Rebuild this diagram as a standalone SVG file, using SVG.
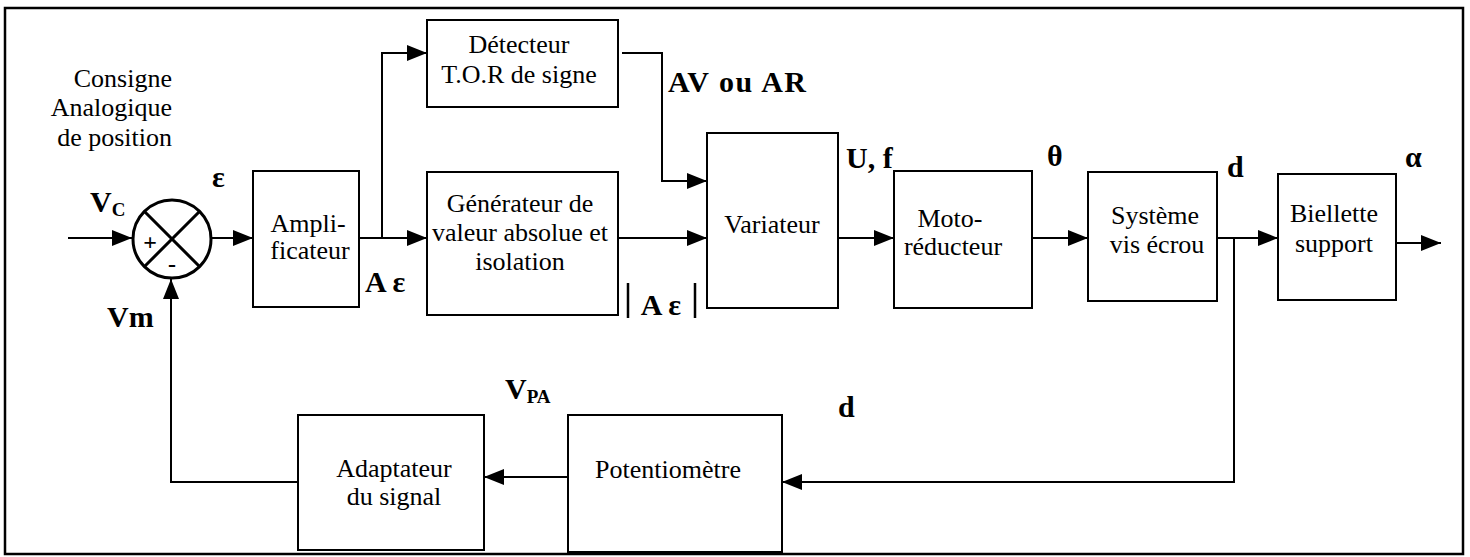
<svg xmlns="http://www.w3.org/2000/svg" width="1470" height="557" viewBox="0 0 1470 557">
<style>
.box{fill:#fff;stroke:#000;stroke-width:2}
.t{font-size:26px;fill:#000}
.c{text-anchor:middle}
.b{font-size:30px;font-weight:bold;fill:#000}
.sub{font-size:19px}
.ln{fill:none;stroke:#000;stroke-width:2}
</style>
<defs>
<marker id="ah" markerUnits="userSpaceOnUse" markerWidth="20" markerHeight="16" refX="20" refY="8" orient="auto">
<path d="M0,0 L20,8 L0,16 z" fill="#000"/>
</marker>
</defs>
<rect x="0" y="0" width="1470" height="557" fill="#fff"/>
<rect x="5" y="8" width="1458" height="546" fill="none" stroke="#000" stroke-width="2.5"/>

<g id="connectors" class="ln">
<path d="M68,238 H132" marker-end="url(#ah)"/>
<path d="M212,238 H253" marker-end="url(#ah)"/>
<path d="M359,238 H427" marker-end="url(#ah)"/>
<path d="M382,238 V53 H427" marker-end="url(#ah)"/>
<path d="M622,53 H662 V181 H707" marker-end="url(#ah)"/>
<path d="M618,238 H707" marker-end="url(#ah)"/>
<path d="M838,238 H894" marker-end="url(#ah)"/>
<path d="M1032,238 H1088" marker-end="url(#ah)"/>
<path d="M1217,238 H1278" marker-end="url(#ah)"/>
<path d="M1396,243 H1441" marker-end="url(#ah)"/>
<path d="M1234,238 V482 H782" marker-end="url(#ah)"/>
<path d="M568,477 H484" marker-end="url(#ah)"/>
<path d="M298,482 H171 V279" marker-end="url(#ah)"/>
</g>

<g font-family="'Liberation Serif', Tinos, 'Times New Roman', Times, 'DejaVu Serif', serif">
<g id="sum">
<circle cx="172" cy="239" r="39" fill="#fff" stroke="#000" stroke-width="3"/>
<path d="M144,211 L200,267 M200,211 L144,267" stroke="#000" stroke-width="3"/>
<text x="150" y="250" class="b c" style="font-size:24px">+</text>
<text x="172" y="272" class="b c" style="font-size:24px">-</text>
</g>

<g id="consigne">
<text x="172" y="87" class="t" text-anchor="end">Consigne</text>
<text x="172" y="116" class="t" text-anchor="end">Analogique</text>
<text x="172" y="146" class="t" text-anchor="end">de position</text>
</g>

<g id="amplificateur">
<rect x="253" y="171" width="106" height="136" class="box"/>
<text x="308" y="232" class="t c">Ampli-</text>
<text x="310" y="259" class="t c">ficateur</text>
</g>

<g id="detecteur">
<rect x="427" y="20" width="191" height="87" class="box"/>
<text x="519" y="53" class="t c">Détecteur</text>
<text x="519" y="83" class="t c">T.O.R de signe</text>
</g>

<g id="generateur">
<rect x="427" y="172" width="191" height="143" class="box"/>
<text x="520" y="212" class="t c">Générateur de</text>
<text x="520" y="241" class="t c">valeur absolue et</text>
<text x="520" y="270" class="t c">isolation</text>
</g>

<g id="variateur">
<rect x="707" y="133" width="131" height="175" class="box"/>
<text x="772" y="233" class="t c">Variateur</text>
</g>

<g id="motoreducteur">
<rect x="894" y="171" width="138" height="137" class="box"/>
<text x="950" y="227" class="t c">Moto-</text>
<text x="953" y="255" class="t c">réducteur</text>
</g>

<g id="systeme">
<rect x="1088" y="172" width="129" height="129" class="box"/>
<text x="1155" y="224" class="t c">Système</text>
<text x="1157" y="253" class="t c">vis écrou</text>
</g>

<g id="biellette">
<rect x="1278" y="174" width="118" height="126" class="box"/>
<text x="1334" y="222" class="t c">Biellette</text>
<text x="1334" y="252" class="t c">support</text>
</g>

<g id="adaptateur">
<rect x="298" y="415" width="186" height="135" class="box"/>
<text x="394" y="477" class="t c">Adaptateur</text>
<text x="394" y="505" class="t c">du signal</text>
</g>

<g id="potentiometre">
<rect x="568" y="415" width="214" height="137" class="box"/>
<text x="668" y="478" class="t c">Potentiomètre</text>
</g>

<g id="labels">
<text x="90" y="212" class="b">V<tspan class="sub" dy="4">C</tspan></text>
<text x="212" y="187" class="b">ε</text>
<text x="107" y="327" class="b">Vm</text>
<text x="365" y="292" class="b">A ε</text>
<path d="M628,283 V318 M695,283 V318" stroke="#000" stroke-width="2.5"/>
<text x="661" y="315" class="b c">A ε</text>
<text x="668" y="92" class="b" textLength="138" lengthAdjust="spacing">AV ou AR</text>
<text x="846" y="168" class="b">U, f</text>
<text x="1047" y="166" class="b">θ</text>
<text x="1227" y="177" class="b">d</text>
<text x="1405" y="167" class="b">α</text>
<text x="505" y="399" class="b">V<tspan class="sub" dy="4">PA</tspan></text>
<text x="838" y="417" class="b">d</text>
</g>
</g>
</svg>
